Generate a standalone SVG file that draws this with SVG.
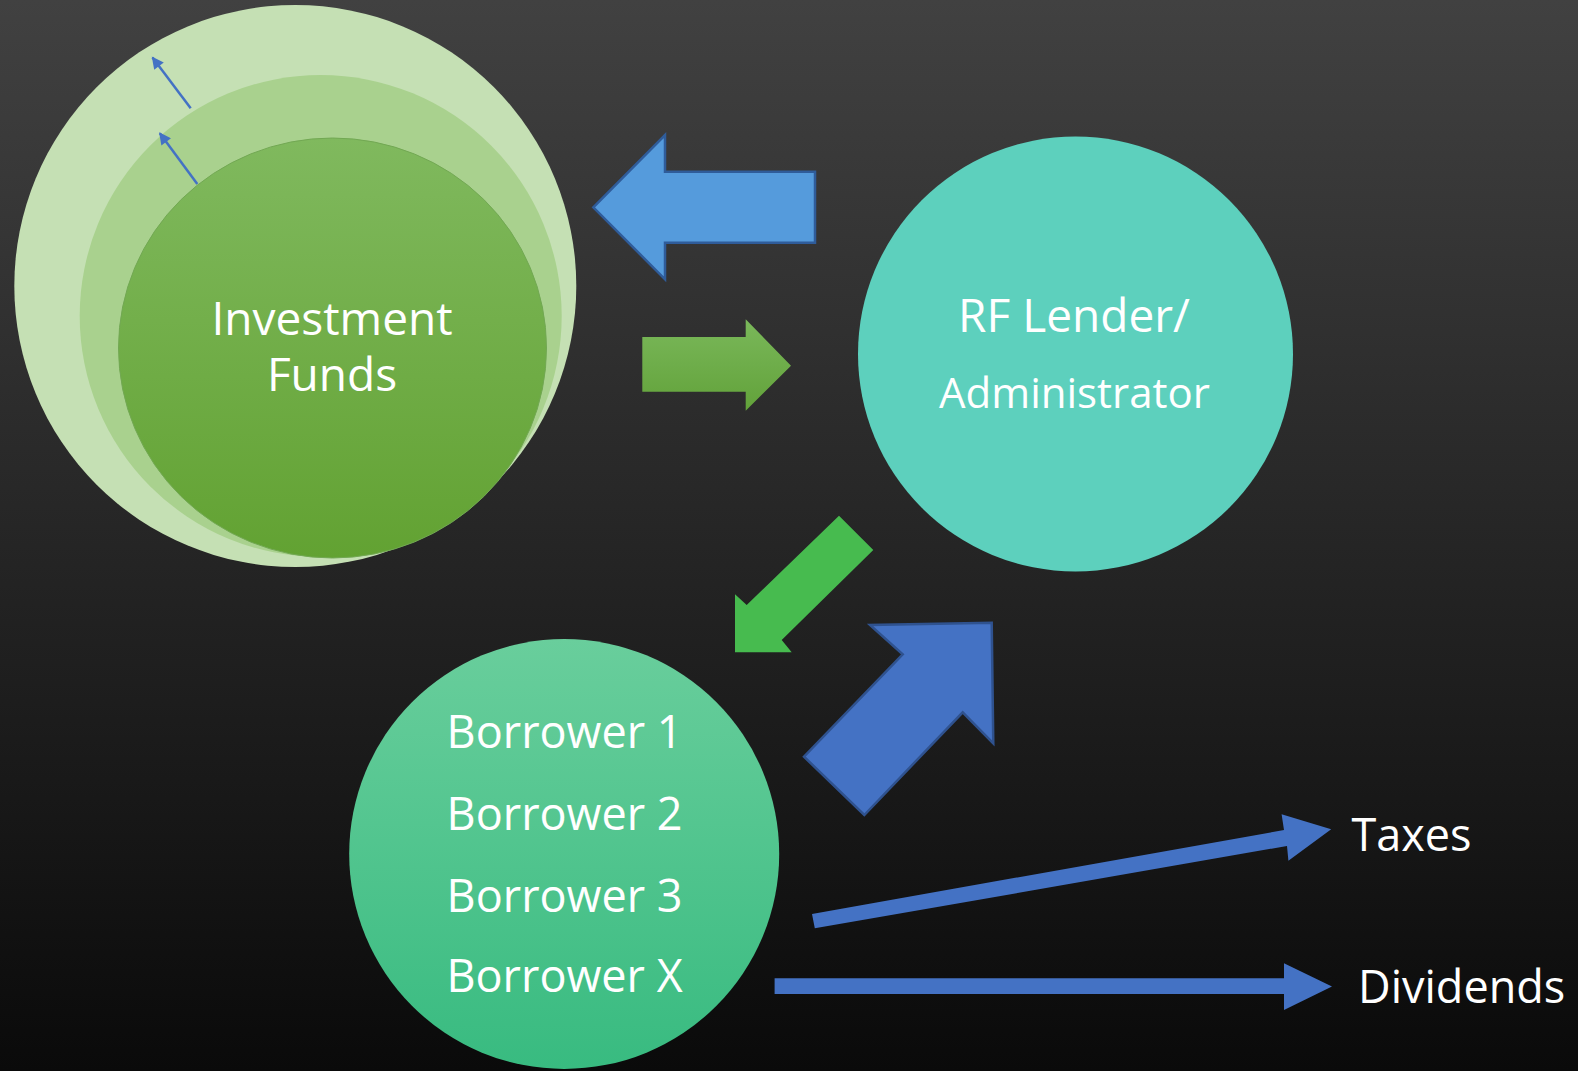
<svg xmlns="http://www.w3.org/2000/svg" width="1578" height="1071" viewBox="0 0 1578 1071">
<defs>
<linearGradient id="bg" x1="0" y1="0" x2="0" y2="1"><stop offset="0" stop-color="#414141"/><stop offset="1" stop-color="#0a0a0a"/></linearGradient>
<linearGradient id="gInner" x1="0" y1="0" x2="0" y2="1"><stop offset="0" stop-color="#80b95e"/><stop offset="1" stop-color="#62a232"/></linearGradient>
<linearGradient id="gBorrow" x1="0" y1="0" x2="0" y2="1"><stop offset="0" stop-color="#69ce9c"/><stop offset="1" stop-color="#38bb80"/></linearGradient>
<linearGradient id="gArrow" x1="0" y1="0" x2="0" y2="1"><stop offset="0" stop-color="#7ab85a"/><stop offset="1" stop-color="#62a23a"/></linearGradient>
<marker id="thin" viewBox="0 0 10 10" refX="9" refY="5" markerWidth="14" markerHeight="12" markerUnits="userSpaceOnUse" orient="auto"><path d="M0,0 L10,5 L0,10 Z" fill="#4472c4"/></marker>
<style>
.lbl{font-family:"Open Sans","Noto Sans","DejaVu Sans",sans-serif;fill:#ffffff;text-anchor:middle}
.side{font-family:"Open Sans","Noto Sans","DejaVu Sans",sans-serif;fill:#ffffff;font-size:45px}
.blue{fill:#4472c4}
.thinln{stroke:#4472c4;stroke-width:2.5;fill:none}
</style>
</defs>
<rect x="0" y="0" width="1578" height="1071" fill="url(#bg)"/>

<g id="investment-funds">
<circle cx="295.3" cy="286" r="281" fill="#c5e0b4"/>
<circle cx="320.7" cy="316" r="241" fill="#a9d18e"/>
<ellipse cx="332.5" cy="348" rx="214" ry="210" fill="url(#gInner)" stroke="#72a853" stroke-width="1"/>
<text class="lbl" x="332" y="335" font-size="46">Investment</text>
<text class="lbl" x="332" y="391" font-size="46">Funds</text>
<line class="thinln" x1="190.7" y1="108.3" x2="152.5" y2="57.5" marker-end="url(#thin)"/>
<line class="thinln" x1="197.3" y1="184" x2="159.8" y2="133.2" marker-end="url(#thin)"/>
</g>

<g id="rf-lender">
<circle cx="1075.5" cy="354" r="217.5" fill="#5dd0bd"/>
<text class="lbl" x="1074" y="331.7" font-size="46">RF Lender/</text>
<text class="lbl" x="1074.5" y="408.3" font-size="42">Administrator</text>
</g>

<g id="borrowers">
<circle cx="564.2" cy="854" r="215" fill="url(#gBorrow)"/>
<text class="lbl" x="564.6" y="748.3" font-size="45">Borrower 1</text>
<text class="lbl" x="564.6" y="830" font-size="45">Borrower 2</text>
<text class="lbl" x="564.6" y="911.7" font-size="45">Borrower 3</text>
<text class="lbl" x="564.6" y="991.7" font-size="45">Borrower X</text>
</g>

<g id="taxes">
<text class="side" x="1351.5" y="850.7">Taxes</text>
</g>
<g id="dividends">
<text class="side" x="1358" y="1003.3">Dividends</text>
</g>

<g id="connectors">
<polygon points="593.3,207.3 665,135 665,171.7 815,171.7 815,242.7 665,242.7 665,279.3" fill="#559bdc" stroke="#2f5c9a" stroke-width="2.5" stroke-linejoin="miter"/>
<polygon points="642.3,337 745.7,337 745.7,319.3 791,365.7 745.7,410.7 745.7,391.7 642.3,391.7" fill="url(#gArrow)"/>
<polygon points="839,515.7 873.3,550 781.7,640 791.7,652.3 735,652.3 735,594.3 746.7,605" fill="#47bb4f"/>
<polygon points="991.7,622.7 993.3,743.3 962.7,712.3 864.3,815 804,756.7 902.7,654.3 870,625" fill="#4472c4" stroke="#2f528f" stroke-width="2.5"/>
<polygon class="blue" points="812,914 1284,830 1281.6,814.3 1331.2,829.3 1288.4,860.7 1287,846 814.8,928.3"/>
<polygon class="blue" points="774.6,978.3 1284,978.3 1284,963.3 1332,986.5 1284,1010 1284,994 774.6,994"/>
</g>
</svg>
